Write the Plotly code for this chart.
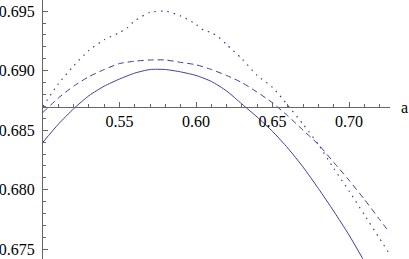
import plotly.graph_objects as go

a_solid = [0.50, 0.51, 0.52, 0.53, 0.54, 0.55, 0.56, 0.57, 0.58, 0.59, 0.60, 0.61, 0.62,
           0.63, 0.64, 0.65, 0.66, 0.67, 0.68, 0.69, 0.70, 0.709]
v_solid = [0.6840, 0.6855, 0.6868, 0.6879, 0.6887, 0.6893, 0.6898, 0.6901, 0.6901, 0.6899,
           0.6896, 0.6891, 0.6883, 0.6872, 0.6861, 0.6849, 0.6835, 0.6819, 0.6801, 0.6782,
           0.6762, 0.6742]

a_dash = [0.50, 0.51, 0.52, 0.53, 0.54, 0.55, 0.56, 0.57, 0.58, 0.59, 0.60, 0.61, 0.62,
          0.63, 0.64, 0.65, 0.66, 0.67, 0.68, 0.69, 0.70, 0.71, 0.72, 0.7265]
v_dash = [0.6865, 0.6877, 0.6887, 0.6895, 0.6901, 0.6906, 0.6908, 0.6909, 0.6909, 0.6907,
          0.6905, 0.6901, 0.6896, 0.6890, 0.6882, 0.6873, 0.6862, 0.6850, 0.6838, 0.6823,
          0.6808, 0.6792, 0.6775, 0.6764]

a_dot = [0.50, 0.51, 0.52, 0.53, 0.54, 0.55, 0.555, 0.56, 0.57, 0.58, 0.59, 0.60, 0.605,
         0.61, 0.615, 0.62, 0.63, 0.64, 0.65, 0.66, 0.67, 0.68, 0.69, 0.70, 0.71, 0.72, 0.727]
v_dot = [0.6870, 0.6889, 0.6904, 0.6917, 0.6926, 0.6932, 0.6936, 0.6942, 0.6949, 0.6950,
         0.6946, 0.6939, 0.6934, 0.6932, 0.6928, 0.6922, 0.6910, 0.6896, 0.6886, 0.6871,
         0.6855, 0.6838, 0.6818, 0.6799, 0.6779, 0.6759, 0.6745]

x_ticks = [0.55, 0.60, 0.65, 0.70]
y_ticks = [0.675, 0.680, 0.685, 0.690, 0.695]

col = "rgb(61,61,153)"
fig = go.Figure()
fig.add_trace(go.Scatter(x=a_solid, y=v_solid, mode="lines",
                         line=dict(color=col, width=1, shape="spline", smoothing=0.6)))
fig.add_trace(go.Scatter(x=a_dash, y=v_dash, mode="lines",
                         line=dict(color=col, width=1, dash="6px,4px", shape="spline", smoothing=0.6)))
fig.add_trace(go.Scatter(x=a_dot, y=v_dot, mode="lines",
                         line=dict(color=col, width=1.2, dash="1.5px,5px", shape="spline", smoothing=0.6)))

axis_col = "#666666"
font = dict(family="Liberation Serif, DejaVu Serif, serif", size=16, color="black")
fig.update_layout(
    width=409, height=259, showlegend=False,
    margin=dict(l=43, r=19, t=0, b=0),
    paper_bgcolor="white", plot_bgcolor="white",
    font=font,
    xaxis=dict(range=[0.5, 0.7268], showgrid=False, zeroline=False,
               showline=True, linecolor=axis_col, linewidth=1,
               anchor="free", position=0.588,
               tickmode="array", tickvals=x_ticks, ticktext=[f"{t:.2f}" for t in x_ticks],
               ticks="inside", ticklen=5, tickcolor=axis_col, tickwidth=1,
               minor=dict(dtick=0.01, tick0=0.5, ticks="inside", ticklen=3,
                          tickcolor=axis_col, showgrid=False),
               tickfont=font, ticklabelstandoff=0, ticklabeloverflow="allow"),
    yaxis=dict(range=[0.67418, 0.69594], showgrid=False, zeroline=False,
               showline=True, linecolor=axis_col, linewidth=1,
               tickmode="array", tickvals=y_ticks, ticktext=[f"{t:.3f}" for t in y_ticks],
               ticks="inside", ticklen=5, tickcolor=axis_col, tickwidth=1,
               minor=dict(dtick=0.001, tick0=0.675, ticks="inside", ticklen=3,
                          tickcolor=axis_col, showgrid=False),
               tickfont=font, ticklabelstandoff=4, ticklabeloverflow="allow"),
    annotations=[dict(text="a", xref="paper", yref="paper", x=1.043, y=0.585,
                      showarrow=False, xanchor="center", yanchor="middle", font=font)],
)
fig.write_html("out.html", config={"displayModeBar": False},
               post_script="document.body.style.margin='0';document.body.style.padding='0';")
